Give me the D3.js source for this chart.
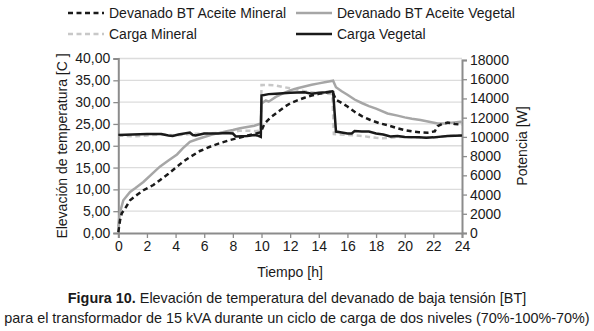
<!DOCTYPE html>
<html>
<head>
<meta charset="utf-8">
<script src="https://cdn.jsdelivr.net/npm/d3@7"></script>
<style>
  body { margin: 0; background: #fff; }
  svg text { font-family: Arial, "Liberation Sans", sans-serif; fill: #1a1a1a; }
</style>
</head>
<body>
<div id="root"></div>
<script>
// devanado BT, aceite mineral (temperatura, eje izquierdo)
var tMin = [0, 0.12, 0.24, 0.47, 0.82, 1.29, 1.75, 2.45, 2.9, 3.5, 4.1, 4.55, 5, 5.7, 6.5, 7, 7.8, 8.5, 9, 9.5, 9.95,
            10.2, 10.6, 11, 11.6, 12, 12.5, 13, 13.5, 14, 14.5, 14.95,
            15.2, 15.5, 16, 16.5, 17, 17.6, 18.2, 18.8, 19.4, 20, 20.5, 21, 21.6, 22.1, 22.3, 22.6, 23, 23.5, 24]
var devMin = [0.2, 2.9, 4.5, 5.6, 7.5, 8.7, 9.8, 11.0, 12.1, 13.6, 15.2, 16.4, 17.4, 18.8, 19.9, 20.5, 21.3, 21.9, 22.3, 22.7, 23.1,
              25.0, 26.4, 27.4, 28.9, 29.7, 30.4, 31.0, 31.5, 31.9, 32.2, 32.4,
              30.5, 30.0, 29.0, 27.8, 26.8, 25.9, 25.2, 24.7, 24.1, 23.6, 23.3, 23.1, 23.0, 23.3, 24.5, 25.0, 25.3, 25.0, 24.8]

// devanado BT, aceite vegetal
var tVeg = [0, 0.1, 0.35, 0.82, 1.2, 1.75, 2.3, 2.9, 3.5, 4.1, 4.5, 5, 5.5, 6, 6.5, 7, 7.5, 8, 8.5, 9, 9.5, 9.95,
            10.0, 10.3, 10.5, 11, 11.5, 12, 12.5, 13, 13.5, 14, 14.5, 15,
            15.2, 15.6, 16, 16.5, 17, 17.5, 18, 18.8, 19.5, 20, 20.5, 21.1, 21.7, 22.3, 22.8, 23.3, 23.9, 24]
var devVeg = [1.4, 4.5, 7.5, 9.4, 10.3, 11.7, 13.4, 15.2, 16.6, 18.0, 19.4, 20.9, 21.5, 22.0, 22.5, 22.9, 23.3, 23.6, 24.0, 24.3, 24.6, 25.1,
              29.7, 30.4, 30.1, 31.2, 32.0, 32.7, 33.2, 33.6, 34.0, 34.3, 34.6, 34.9,
              33.4, 32.5, 31.7, 30.6, 29.8, 29.1, 28.5, 27.4, 26.9, 26.5, 26.2, 25.9, 25.5, 25.1, 25.1, 25.3, 25.5, 25.4]

// carga (potencia, eje derecho)
var tCargaMin = [0, 1, 2, 3, 4, 5, 6, 7, 8, 8.5, 9, 9.5, 9.95, 10.0, 10.5, 11, 11.5, 12, 12.5, 13, 13.5, 14, 14.5, 14.95,
                 15.05, 15.5, 16, 16.5, 17, 17.5, 18, 18.5, 19, 19.5, 20, 21, 22, 23, 24]
var cargaMin = [10150, 10050, 10150, 10250, 10150, 10300, 10350, 10400, 10500, 10650, 10650, 10600, 10650, 15400, 15400, 15350, 15200, 15050, 14900, 14750, 14650, 14550, 14500, 14450,
                10300, 10250, 10200, 10150, 10100, 10000, 9900, 9850, 9900, 10000, 10000, 9950, 9900, 10100, 10150]

var tCargaVeg = [0, 1, 2, 3, 3.5, 3.8, 4.2, 5, 5.2, 5.4, 6, 7, 7.5, 8, 8.2, 9, 9.5, 9.7, 9.95, 10.0, 10.5, 11, 12, 13, 13.5, 14, 14.5, 14.95,
                 15.0, 15.2, 15.6, 16, 16.3, 16.5, 17, 17.5, 18, 18.5, 19, 19.5, 20, 21, 21.5, 22, 23, 24]
var cargaVeg = [10200, 10250, 10300, 10300, 10150, 10100, 10250, 10450, 10200, 10150, 10350, 10350, 10400, 10350, 10050, 10100, 10200, 10150, 10000, 14300, 14450, 14500, 14600, 14650, 14500, 14600, 14650, 14750,
                14700, 10550, 10450, 10350, 10350, 10600, 10550, 10550, 10350, 10250, 10050, 10100, 10000, 9950, 9900, 9950, 10100, 10150]

var xTicks = d3.range(0, 25, 2)
var yTicksL = d3.range(0, 41, 5)
var yTicksR = d3.range(0, 18001, 2000)

var legendItems = [
  {label: "Devanado BT Aceite Mineral", color: "#1a1a1a", dash: "5,3.5", col: 0, row: 0},
  {label: "Devanado BT Aceite Vegetal", color: "#a6a6a6", dash: null, col: 1, row: 0},
  {label: "Carga Mineral", color: "#c8c8c8", dash: "5,3.5", col: 0, row: 1},
  {label: "Carga Vegetal", color: "#1a1a1a", dash: null, col: 1, row: 1}
]

var width = 594, height = 331
var margin = {top: 58.5, right: 132, bottom: 98, left: 118.3}
var fs = "14px"

var svg = d3.select("#root").append("svg")
  .attr("width", width).attr("height", height)

var x = d3.scaleLinear().domain([0, 24]).range([margin.left, width - margin.right])
var yL = d3.scaleLinear().domain([0, 40]).range([height - margin.bottom, margin.top])
var yR = d3.scaleLinear().domain([0, 18000]).range([height - margin.bottom, margin.top + 1.5])

// gridlines
svg.append("g").selectAll("line")
  .data(yTicksL.slice(1))
  .enter().append("line")
  .attr("x1", x(0)).attr("x2", x(24))
  .attr("y1", d => yL(d)).attr("y2", d => yL(d))
  .attr("stroke", "#dcdcdc").attr("stroke-width", 1.3)

// axes
function styleAxis(g) {
  g.select(".domain").attr("stroke", "#8c8c8c").attr("stroke-width", 2)
  g.selectAll(".tick line").attr("stroke", "#8c8c8c").attr("stroke-width", 1.3)
  g.selectAll(".tick text").style("font-size", fs).attr("fill", "#1a1a1a")
}

svg.append("g")
  .attr("transform", "translate(" + margin.left + ",0)")
  .call(d3.axisLeft(yL).tickValues(yTicksL).tickSizeOuter(0).tickSize(5).tickPadding(3)
    .tickFormat(d => d3.format(".2f")(d).replace(".", ",")))
  .call(styleAxis)

svg.append("g")
  .attr("transform", "translate(" + (width - margin.right) + ",0)")
  .call(d3.axisRight(yR).tickValues(yTicksR).tickSizeOuter(0).tickSize(5).tickPadding(3)
    .tickFormat(d3.format("d")))
  .call(styleAxis)

svg.append("g")
  .attr("transform", "translate(0," + (height - margin.bottom) + ")")
  .call(d3.axisBottom(x).tickValues(xTicks).tickSizeOuter(0).tickSize(5).tickPadding(3))
  .call(styleAxis)

// series
function drawLine(ts, vs, scale, color, dash) {
  var line = d3.line().x(d => x(d[0])).y(d => scale(d[1]))
  svg.append("path")
    .datum(d3.zip(ts, vs))
    .attr("d", line)
    .attr("fill", "none")
    .attr("stroke", color)
    .attr("stroke-width", 2.5)
    .attr("stroke-dasharray", dash)
}

drawLine(tCargaMin, cargaMin, yR, "#c8c8c8", "5,3.5")
drawLine(tVeg, devVeg, yL, "#a6a6a6", null)
drawLine(tMin, devMin, yL, "#1a1a1a", "5,3.5")
drawLine(tCargaVeg, cargaVeg, yR, "#1a1a1a", null)

// legend
var lg = svg.append("g").selectAll("g")
  .data(legendItems)
  .enter().append("g")
  .attr("transform", d => "translate(" + (d.col ? 296 : 68) + "," + (d.row ? 34 : 13) + ")")
lg.append("line")
  .attr("x1", 0).attr("x2", 36).attr("y1", 0).attr("y2", 0)
  .attr("stroke", d => d.color).attr("stroke-width", 2.5)
  .attr("stroke-dasharray", d => d.dash)
lg.append("text")
  .attr("x", 41).attr("y", 0).attr("dy", "0.35em")
  .style("font-size", fs)
  .text(d => d.label)

// axis titles
svg.append("text")
  .attr("x", 290).attr("y", 272).attr("dy", "0.35em")
  .attr("text-anchor", "middle").style("font-size", fs)
  .text("Tiempo [h]")

svg.append("text")
  .attr("transform", "translate(62,146) rotate(-90)")
  .attr("text-anchor", "middle").attr("dy", "0.35em").style("font-size", fs)
  .text("Elevación de temperatura [C ]")

svg.append("text")
  .attr("transform", "translate(522,146) rotate(-90)")
  .attr("text-anchor", "middle").attr("dy", "0.35em").style("font-size", fs)
  .text("Potencia [W]")

// caption
var cap = svg.append("text")
  .attr("x", 297).attr("y", 298).attr("dy", "0.35em")
  .attr("text-anchor", "middle").style("font-size", "14.4px")
cap.append("tspan").style("font-weight", "bold").text("Figura 10.")
cap.append("tspan").text(" Elevación de temperatura del devanado de baja tensión [BT]")

svg.append("text")
  .attr("x", 297).attr("y", 318).attr("dy", "0.35em")
  .attr("text-anchor", "middle").style("font-size", "14.4px")
  .text("para el transformador de 15 kVA durante un ciclo de carga de dos niveles (70%-100%-70%)")
</script>
</body>
</html>
